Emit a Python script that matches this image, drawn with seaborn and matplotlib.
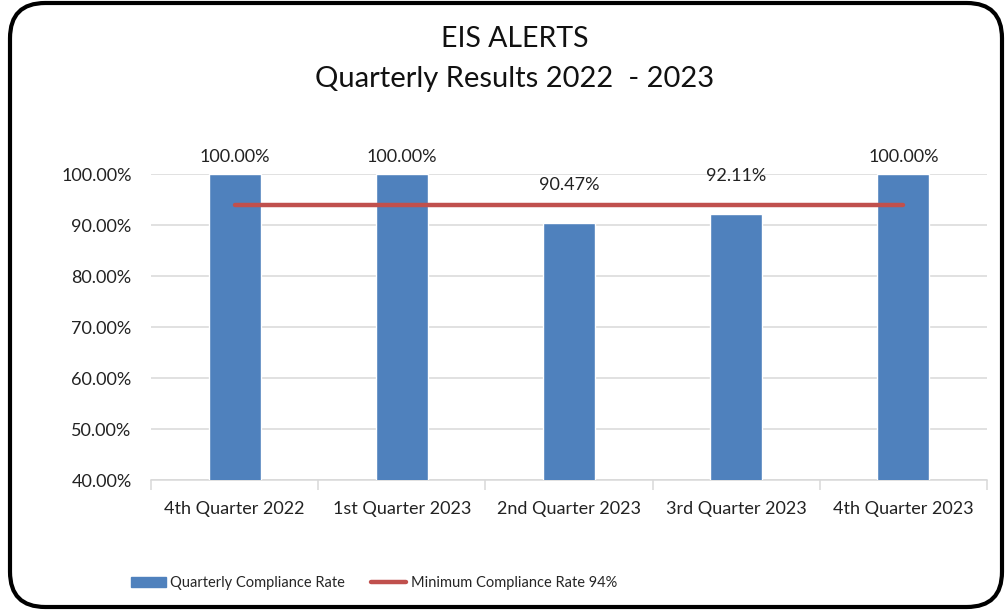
import matplotlib
matplotlib.use("Agg")
import matplotlib.pyplot as plt
import seaborn as sns
import pandas as pd
from matplotlib.patches import FancyBboxPatch, Patch
from matplotlib.lines import Line2D
from matplotlib.ticker import FuncFormatter, FixedLocator

quarters = ["4th Quarter 2022", "1st Quarter 2023", "2nd Quarter 2023",
            "3rd Quarter 2023", "4th Quarter 2023"]
compliance = [1.0, 1.0, 0.9047, 0.9211, 1.0]
minimum = [0.94, 0.94, 0.94, 0.94, 0.94]
yticks = [0.4, 0.5, 0.6, 0.7, 0.8, 0.9, 1.0]

BLUE = "#4F81BD"
RED = "#C0504D"
FONT = "Lato"

sns.set_theme(style="white")
plt.rcParams['font.family'] = [FONT, 'DejaVu Sans']

df = pd.DataFrame({"Quarter": quarters, "Rate": compliance, "Min": minimum})

fig = plt.figure(figsize=(10.07, 6.15), dpi=100)
ax = fig.add_axes([151/1007, 1-480/615, (987-151)/1007, (480-174)/615])

sns.barplot(data=df, x="Quarter", y="Rate", color=BLUE, width=0.31,
            saturation=1, ax=ax, zorder=3)
sns.lineplot(x=list(range(len(quarters))), y=df["Min"], color=RED, lw=3.2,
             ax=ax, zorder=4, solid_capstyle="round")

ax.set_ylim(0.4, 1.0)
ax.set_xlim(-0.5, len(quarters) - 0.5)
ax.yaxis.set_major_locator(FixedLocator(yticks))
ax.yaxis.set_major_formatter(FuncFormatter(lambda v, p: f"{v*100:.2f}%"))
ax.grid(axis="y", color="#D9D9D9", lw=1.1, zorder=0)
ax.set_axisbelow(True)
for s in ["top", "right", "left"]:
    ax.spines[s].set_visible(False)
ax.spines["bottom"].set_color("#D9D9D9")
ax.spines["bottom"].set_linewidth(1.1)
ax.set_xlabel("")
ax.set_ylabel("")
ax.tick_params(axis="y", length=0, labelsize=13, pad=14, labelcolor="#222222")
ax.tick_params(axis="x", which="major", length=0, labelsize=13, pad=15,
               labelcolor="#222222")
ax.set_xticks([i - 0.5 for i in range(len(quarters) + 1)], minor=True)
ax.tick_params(axis="x", which="minor", length=7, width=1.1, color="#D9D9D9",
               bottom=True)

for i, v in enumerate(compliance):
    off = 38 if v < minimum[i] else 17
    ax.annotate(f"{v*100:.2f}%", (i, v), xytext=(0, off), textcoords="offset pixels",
                ha="center", va="center", fontsize=13, color="#222222",
                annotation_clip=False)

fig.text(515/1007, 1-39/615, "EIS ALERTS", ha="center", va="center",
         fontsize=20.5, color="#111111")
fig.text(515/1007, 1-79/615, "Quarterly Results 2022  - 2023", ha="center",
         va="center", fontsize=21, color="#111111")

handles = [Patch(facecolor=BLUE, edgecolor=BLUE),
           Line2D([0], [0], color=RED, lw=3.2)]
fig.legend(handles, ["Quarterly Compliance Rate", "Minimum Compliance Rate 94%"],
           loc="center", bbox_to_anchor=(374/1007, 1-583/615), ncol=2,
           frameon=False, prop={"family": [FONT, 'DejaVu Sans'], "size": 10.5},
           handlelength=2.4, handletextpad=0.3, columnspacing=1.8)

border = FancyBboxPatch((10/1007, 8/615), (1002-10)/1007, (612-8)/615,
                        boxstyle="round,pad=0,rounding_size=0.035",
                        transform=fig.transFigure, fill=False,
                        edgecolor="black", lw=3.0, clip_on=False,
                        mutation_aspect=1007/615)
fig.patches.append(border)

fig.savefig("out.png", dpi=100)
